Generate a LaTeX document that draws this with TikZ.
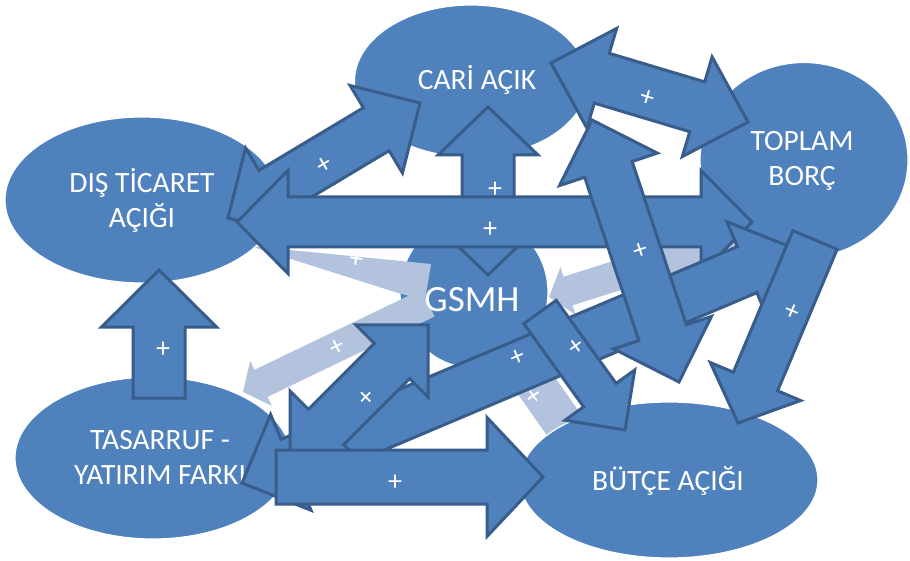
\documentclass[tikz,border=0pt]{standalone}
\usepackage{fontspec}
\setmainfont{Carlito}
\usetikzlibrary{shapes.geometric}
\definecolor{fillblue}{HTML}{4F81BD}
\definecolor{edgeblue}{HTML}{385D8A}
\definecolor{paleblue}{HTML}{B3C3DE}
\tikzset{
  bubble/.style={ellipse, fill=fillblue, draw=white, line width=1.2pt, inner sep=0pt},
  blk/.style={fill=fillblue, draw=edgeblue, line width=3pt, line join=miter},
  pale/.style={fill=paleblue},
  lbl/.style={text=white, align=center, inner sep=0pt, font=\fontsize{29.5}{35}\selectfont},
  plus/.style={text=white, inner sep=0pt, font=\fontsize{28}{28}\selectfont},
}
% block arrow: #1 style, (#2,#3) start, (#4,#5) end, #6 shaft width,
% #7 head width, #8 head length, #9 = 1 for two heads, 0 for one head at the end
\newcommand\blockarrow[9]{%
  \pgfmathsetmacro\baRot{-atan2((#5)-(#3),(#4)-(#2))}%
  \pgfmathsetmacro\baLen{veclen((#4)-(#2),(#5)-(#3))}%
  \pgfmathsetmacro\baS{(#6)/2}%
  \pgfmathsetmacro\baH{(#7)/2}%
  \pgfmathsetmacro\baK{#8}%
  \pgfmathsetmacro\baE{\baLen-\baK}%
  \begin{scope}[shift={(#2,#3)}, rotate=\baRot]
    \ifnum#9=1
      \path[#1] (0,0) -- (\baK,\baH) -- (\baK,\baS) -- (\baE,\baS) -- (\baE,\baH)
        -- (\baLen,0) -- (\baE,-\baH) -- (\baE,-\baS) -- (\baK,-\baS) -- (\baK,-\baH) -- cycle;
    \else
      \path[#1] (0,\baS) -- (\baE,\baS) -- (\baE,\baH) -- (\baLen,0)
        -- (\baE,-\baH) -- (\baE,-\baS) -- (0,-\baS) -- cycle;
    \fi
  \end{scope}}
\begin{document}
\begin{tikzpicture}[x=1pt, y=-1pt]
  \useasboundingbox (0,0) rectangle (910,561);
  \fill[white] (0,0) rectangle (910,561);

  % GSMH sits lowest, the faint links lie over it
  \node[bubble, minimum width=148pt, minimum height=152pt] (gsmh) at (474,292) {};

  % faint links
  \path[pale] (250,246) -- (431,264) -- (425,300) -- (398,293) -- cycle;
  \blockarrow{pale}{428}{303}{243}{392}{30}{50}{20}{0}
  \blockarrow{pale}{745}{235}{549}{297}{30}{50}{20}{0}
  \blockarrow{pale}{515}{355}{592}{465}{40}{56}{20}{0}
  \node[plus, rotate=-8] (pp1) at (356,260) {+};
  \node[plus, rotate=26] (pp2) at (337,348) {+};
  \node[plus, rotate=-55] (pp4) at (533,397) {+};

  \node[lbl, font=\fontsize{37}{40}\selectfont] (tgsmh) at (472,300) {GSMH};

  % the other five quantities
  \node[bubble, minimum width=233pt, minimum height=152pt] (cari) at (471,81) {};
  \node[bubble, minimum width=274pt, minimum height=166pt] (dis) at (142,200) {};
  \node[bubble, minimum width=208pt, minimum height=195pt] (toplam) at (804,160) {};
  \node[bubble, minimum width=276pt, minimum height=162pt] (tasarruf) at (153,458) {};
  \node[bubble, minimum width=298pt, minimum height=156pt] (butce) at (669,480) {};

  \node[lbl] (tcari) at (477,80) {CARİ AÇIK};
  \node[lbl] (tdis) at (142,200) {DIŞ TİCARET\\AÇIĞI};
  \node[lbl] (ttoplam) at (802,161) {TOPLAM\\BORÇ};
  \node[lbl] (ttasarruf) at (160,457) {TASARRUF -\\YATIRIM FARKI};
  \node[lbl] (tbutce) at (668,481) {BÜTÇE AÇIĞI};

  % links, back to front
  \blockarrow{blk}{228}{218}{420}{103}{50}{102}{51}{1}
  \node[plus, rotate=30.9] (pA) at (325,165) {+};
  \blockarrow{blk}{488}{107}{488}{275}{52}{100}{48}{1}
  \node[plus] (pB) at (495,190) {+};
  \blockarrow{blk}{159}{398}{159}{270}{52}{115}{57}{0}
  \node[plus] (pK) at (163,350) {+};
  \blockarrow{blk}{237}{222}{752}{222}{50}{103}{51}{1}
  \node[plus] (pC) at (490,230) {+};
  \blockarrow{blk}{551}{63}{748}{122}{52}{104}{53}{1}
  \node[plus, rotate=-16.7] (pD) at (647,98) {+};
  \blockarrow{blk}{242}{483}{796}{249}{50}{104}{53}{1}
  \node[plus, rotate=22.9] (pG) at (518,358) {+};
  \blockarrow{blk}{592}{120}{679}{382}{50}{103}{52}{1}
  \node[plus, rotate=18.3] (pE) at (641,251) {+};
  \blockarrow{blk}{815}{240}{738}{423}{48}{98}{45}{0}
  \node[plus, rotate=-23] (pF) at (792,312) {+};
  \blockarrow{blk}{540}{312}{625}{430}{40}{86}{43}{0}
  \node[plus, rotate=36] (pH) at (577,347) {+};
  \blockarrow{blk}{290}{463}{428}{325}{50}{102}{51}{1}
  \node[plus, rotate=45] (pI) at (367,398) {+};
  \blockarrow{blk}{276}{477}{543}{477}{54}{119}{56}{0}
  \node[plus] (pJ) at (395,483) {+};
\end{tikzpicture}
\end{document}
